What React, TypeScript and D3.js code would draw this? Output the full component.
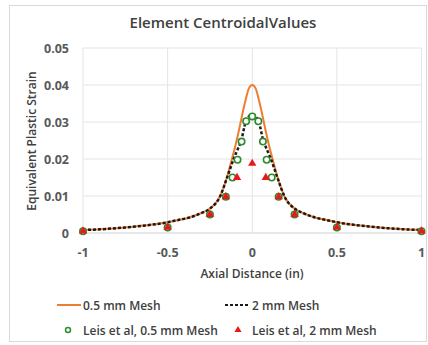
import React from "react";
import * as d3 from "d3";

// Simulated strain profile, 0.5 mm mesh
const mesh05X = [-1, -0.9, -0.8, -0.7, -0.6, -0.5, -0.45, -0.37, -0.3, -0.25, -0.19, -0.15, -0.12, -0.1, -0.075, -0.06, -0.04, -0.02, 0,
  0.02, 0.04, 0.06, 0.075, 0.1, 0.12, 0.15, 0.19, 0.25, 0.3, 0.37, 0.45, 0.5, 0.6, 0.7, 0.8, 0.9, 1];
const mesh05 = [0.0008, 0.001, 0.0013, 0.0017, 0.0022, 0.0029, 0.0034, 0.0042, 0.0054, 0.0066, 0.0099, 0.015, 0.02, 0.0235, 0.0285, 0.0318, 0.0358, 0.0391, 0.04,
  0.0391, 0.0358, 0.0318, 0.0285, 0.0235, 0.02, 0.015, 0.0099, 0.0066, 0.0054, 0.0042, 0.0034, 0.0029, 0.0022, 0.0017, 0.0013, 0.001, 0.0008];

// Simulated strain profile, 2 mm mesh
const mesh2X = [-1, -0.9, -0.8, -0.7, -0.6, -0.5, -0.45, -0.37, -0.3, -0.25, -0.19, -0.15, -0.11, -0.09, -0.065, -0.04, -0.02, 0,
  0.02, 0.04, 0.065, 0.09, 0.11, 0.15, 0.19, 0.25, 0.3, 0.37, 0.45, 0.5, 0.6, 0.7, 0.8, 0.9, 1];
const mesh2 = [0.0008, 0.001, 0.0013, 0.0017, 0.0022, 0.0029, 0.0034, 0.0042, 0.0054, 0.0066, 0.0099, 0.0148, 0.02, 0.0222, 0.025, 0.0298, 0.0315, 0.032,
  0.0315, 0.0298, 0.025, 0.0222, 0.02, 0.0148, 0.0099, 0.0066, 0.0054, 0.0042, 0.0034, 0.0029, 0.0022, 0.0017, 0.0013, 0.001, 0.0008];

// Leis et al. reference values
const leis05X = [-1, -0.5, -0.25, -0.156, -0.117, -0.087, -0.063, -0.036, 0, 0.036, 0.063, 0.085, 0.115, 0.156, 0.25, 0.5, 1];
const leis05 = [0.0005, 0.0015, 0.005, 0.0098, 0.015, 0.0198, 0.0247, 0.0302, 0.0315, 0.0302, 0.0247, 0.0198, 0.015, 0.0098, 0.005, 0.0015, 0.0005];
const leis2X = [-1, -0.5, -0.25, -0.156, -0.09, 0, 0.08, 0.156, 0.25, 0.5, 1];
const leis2 = [0.0005, 0.0015, 0.005, 0.0098, 0.015, 0.0188, 0.015, 0.0098, 0.005, 0.0015, 0.0005];

const xTicks = [-1, -0.5, 0, 0.5, 1];
const yTicks = [0, 0.01, 0.02, 0.03, 0.04, 0.05];

const W = 428;
const H = 345;
const FONT = "'Open Sans', 'Noto Sans', sans-serif";

export default function App() {
  const x = d3.scaleLinear().domain([-1, 1]).range([83, 421.5]);
  const y = d3.scaleLinear().domain([0, 0.05]).range([233, 48]);

  const line = d3
    .line<[number, number]>()
    .x((d) => x(d[0]))
    .y((d) => y(d[1]))
    .curve(d3.curveMonotoneX);

  const p05 = line(mesh05X.map((v, i) => [v, mesh05[i]] as [number, number])) || "";
  const p2 = line(mesh2X.map((v, i) => [v, mesh2[i]] as [number, number])) || "";
  const tri = d3.symbol(d3.symbolTriangle, 30)() || "";
  const legTri = d3.symbol(d3.symbolTriangle, 22)() || "";

  return (
    <div style={{ position: "fixed", left: 0, top: 0 }}>
      <svg width={W} height={H} style={{ display: "block", background: "#fff" }} fontFamily={FONT}>
        <rect x={9.5} y={5.5} width={417} height={336} fill="#fff" stroke="#d9d9d9" />
        <text x={223} y={28} textAnchor="middle" fontSize={15} fontWeight={600} fill="#404040">
          Element CentroidalValues
        </text>

        {yTicks.map((t) => (
          <g key={"y" + t}>
            <line x1={x(-1)} x2={x(1)} y1={y(t)} y2={y(t)} stroke={t === 0 ? "#d0d0d0" : "#e4e4e4"} strokeWidth={1} />
            <text x={69} y={y(t) + 4.5} textAnchor="end" fontSize={12.5} fontWeight={700} fill="#595959">
              {t === 0 ? "0" : t.toFixed(2)}
            </text>
          </g>
        ))}
        {xTicks.map((t) => (
          <g key={"x" + t}>
            <line x1={x(t)} x2={x(t)} y1={y(0.05)} y2={y(0)} stroke="#e4e4e4" strokeWidth={1} />
            <text x={x(t)} y={257} textAnchor="middle" fontSize={12.5} fontWeight={700} fill="#595959">
              {String(t)}
            </text>
          </g>
        ))}

        <text x={252} y={278} textAnchor="middle" fontSize={12} fontWeight={600} fill="#404040">
          Axial Distance (in)
        </text>
        <text
          transform={`translate(36,141) rotate(-90)`}
          textAnchor="middle"
          fontSize={12}
          fontWeight={600}
          fill="#404040"
        >
          Equivalent Plastic Strain
        </text>

        <path d={p05} fill="none" stroke="#ED7D31" strokeWidth={2} />
        <path d={p2} fill="none" stroke="#1a1a1a" strokeWidth={2.5} strokeDasharray="3,2" />

        {leis05X.map((v, i) => (
          <circle key={"g" + i} cx={x(v)} cy={y(leis05[i])} r={3.2} fill="#fff" stroke="#2E8B2E" strokeWidth={1.6} />
        ))}
        {leis2X.map((v, i) => (
          <path key={"r" + i} d={tri} transform={`translate(${x(v)},${y(leis2[i])})`} fill="#E8191C" />
        ))}

        {/* legend */}
        <line x1={57} x2={81} y1={305} y2={305} stroke="#ED7D31" strokeWidth={2} />
        <text x={83} y={309.5} fontSize={12} fontWeight={600} fill="#404040">0.5 mm Mesh</text>
        <line x1={225} x2={250} y1={305} y2={305} stroke="#1a1a1a" strokeWidth={2} strokeDasharray="3,2" />
        <text x={252} y={309.5} fontSize={12} fontWeight={600} fill="#404040">2 mm Mesh</text>
        <circle cx={68} cy={330} r={2.5} fill="#fff" stroke="#2E8B2E" strokeWidth={1.5} />
        <text x={83} y={334.5} fontSize={12} fontWeight={600} fill="#404040">Leis et al, 0.5 mm Mesh</text>
        <path d={legTri} transform="translate(238,330)" fill="#E8191C" />
        <text x={252} y={334.5} fontSize={12} fontWeight={600} fill="#404040">Leis et al, 2 mm Mesh</text>
      </svg>
    </div>
  );
}
